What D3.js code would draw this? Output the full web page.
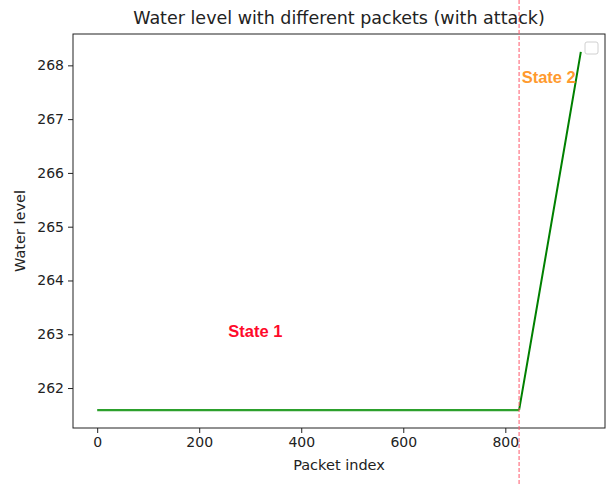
<!DOCTYPE html>
<html>
<head>
<meta charset="utf-8">
<script src="https://cdn.jsdelivr.net/npm/d3@7"></script>
<style>
  body { margin: 0; background: #fff; }
  svg { display: block; font-family: "DejaVu Sans", sans-serif; }
</style>
</head>
<body>
<svg id="chart" width="606" height="484"></svg>
<script>
// normal packets: level stays flat
var normalIndex = [0, 200, 400, 600, 827];
var normalLevel = [261.59, 261.59, 261.59, 261.59, 261.59];
// attack packets: level climbs
var attackIndex = [827, 860, 890, 920, 948];
var attackLevel = [261.59, 263.40, 265.05, 266.70, 268.25];
var attackStart = 827;

var xTicks = [0, 200, 400, 600, 800];
var yTicks = [262, 263, 264, 265, 266, 267, 268];

var labels = [
  { text: "State 1", x: 257, y: 262.95, color: "#ff0a2a" },
  { text: "State 2", x: 832, y: 267.68, color: "#ff9a2e" }
];

var margin = { top: 34, right: 1, bottom: 56, left: 73 };
var width = 606, height = 484;

var svg = d3.select("#chart");

var allX = normalIndex.concat(attackIndex);
var allY = normalLevel.concat(attackLevel);
var xMin = d3.min(allX), xMax = d3.max(allX);
var yMin = d3.min(allY), yMax = d3.max(allY);
var xPad = (xMax - xMin) * 0.05, yPad = (yMax - yMin) * 0.05;

var x = d3.scaleLinear()
  .domain([xMin - xPad, xMax + xPad])
  .range([margin.left, width - margin.right]);
var y = d3.scaleLinear()
  .domain([yMin - yPad, yMax + yPad])
  .range([height - margin.bottom, margin.top]);

//axes
var xAxis = svg.append("g")
  .attr("transform", "translate(0," + (height - margin.bottom) + ")")
  .call(d3.axisBottom(x).tickValues(xTicks).tickSizeOuter(0).tickSize(5).tickPadding(4));
var yAxis = svg.append("g")
  .attr("transform", "translate(" + margin.left + ",0)")
  .call(d3.axisLeft(y).tickValues(yTicks).tickFormat(d3.format("d")).tickSizeOuter(0).tickSize(5).tickPadding(4));

[xAxis, yAxis].forEach(function (a) {
  a.select(".domain").remove();
  a.selectAll("text").style("font-size", "14px").attr("fill", "#222")
    .style("font-family", "DejaVu Sans");
  a.selectAll("line").attr("stroke", "#222");
});

//frame
svg.append("rect")
  .attr("x", margin.left)
  .attr("y", margin.top)
  .attr("width", width - margin.right - margin.left)
  .attr("height", height - margin.bottom - margin.top)
  .attr("fill", "none")
  .attr("stroke", "#222")
  .attr("stroke-width", 1);

var line = d3.line()
  .x(function (d) { return x(d[0]); })
  .y(function (d) { return y(d[1]); });

svg.append("path")
  .datum(d3.zip(normalIndex, normalLevel))
  .attr("d", line)
  .attr("fill", "none")
  .attr("stroke", "#2ca02c")
  .attr("stroke-width", 2.2);

svg.append("path")
  .datum(d3.zip(attackIndex, attackLevel))
  .attr("d", line)
  .attr("fill", "none")
  .attr("stroke", "#008000")
  .attr("stroke-width", 2);

//attack start marker, whole figure height
svg.append("line")
  .attr("x1", x(attackStart)).attr("x2", x(attackStart))
  .attr("y1", 0).attr("y2", height)
  .attr("stroke", "#ff5a6e")
  .attr("stroke-opacity", 0.85)
  .attr("stroke-width", 1.2)
  .attr("stroke-dasharray", "4,2");

labels.forEach(function (l) {
  svg.append("text")
    .attr("x", x(l.x))
    .attr("y", y(l.y))
    .attr("fill", l.color)
    .style("font-family", "Liberation Sans, Arial, sans-serif")
    .style("font-weight", "bold")
    .style("font-size", "16.5px")
    .text(l.text);
});

//empty legend box
svg.append("rect")
  .attr("x", 585).attr("y", 42)
  .attr("width", 13).attr("height", 12)
  .attr("rx", 2)
  .attr("fill", "#fff")
  .attr("stroke", "#d0d0d0");

//titles
svg.append("text")
  .attr("x", (margin.left + width - margin.right) / 2)
  .attr("y", 24)
  .attr("text-anchor", "middle")
  .attr("fill", "#222")
  .style("font-size", "17.5px")
  .text("Water level with different packets (with attack)");

svg.append("text")
  .attr("x", (margin.left + width - margin.right) / 2)
  .attr("y", 470)
  .attr("text-anchor", "middle")
  .attr("fill", "#222")
  .style("font-size", "14.5px")
  .text("Packet index");

svg.append("text")
  .attr("transform", "translate(25," + ((margin.top + height - margin.bottom) / 2) + ") rotate(-90)")
  .attr("text-anchor", "middle")
  .attr("fill", "#222")
  .style("font-size", "14.5px")
  .text("Water level");
</script>
</body>
</html>
